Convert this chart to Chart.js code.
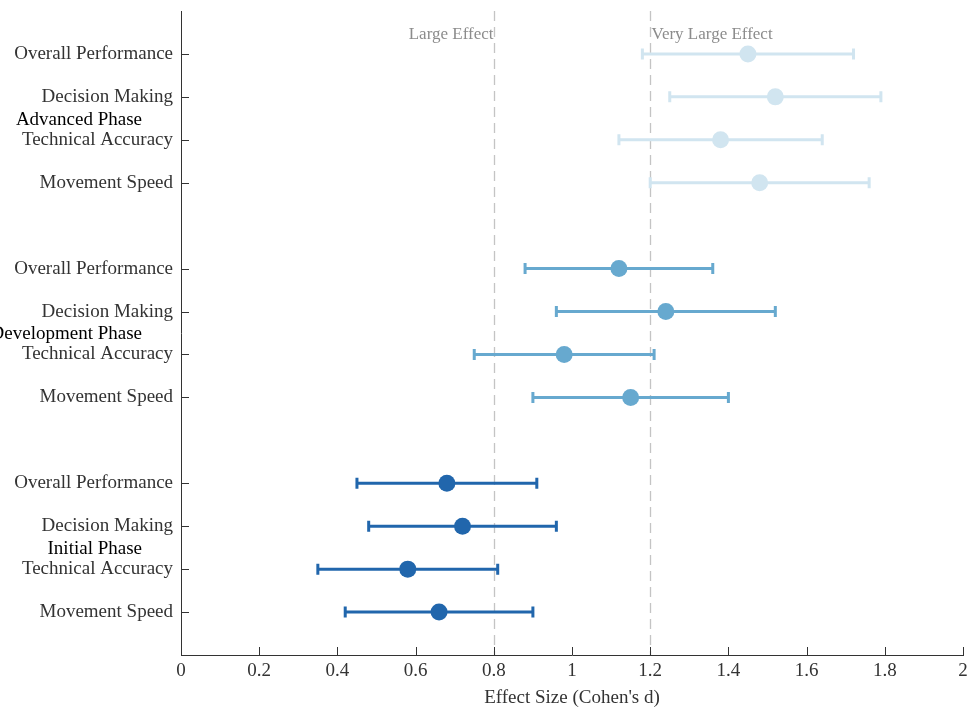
<!DOCTYPE html>
<html>
<head>
<meta charset="utf-8">
<script src="https://cdn.jsdelivr.net/npm/chart.js@4"></script>
<style>
html,body{margin:0;padding:0;background:#fff;}
#wrap{width:967px;height:708px;position:relative;}
</style>
</head>
<body>
<div id="wrap"><canvas id="c" width="967" height="708"></canvas></div>
<script>
// ---- data ----
const phases = ['Advanced Phase', 'Development Phase', 'Initial Phase'];
const measures = ['Overall Performance', 'Decision Making', 'Technical Accuracy', 'Movement Speed'];
const advancedEffect = [1.45, 1.52, 1.38, 1.48];
const advancedLower  = [1.18, 1.25, 1.12, 1.20];
const advancedUpper  = [1.72, 1.79, 1.64, 1.76];
const developmentEffect = [1.12, 1.24, 0.98, 1.15];
const developmentLower  = [0.88, 0.96, 0.75, 0.90];
const developmentUpper  = [1.36, 1.52, 1.21, 1.40];
const initialEffect = [0.68, 0.72, 0.58, 0.66];
const initialLower  = [0.45, 0.48, 0.35, 0.42];
const initialUpper  = [0.91, 0.96, 0.81, 0.90];
const referenceValues = [0.8, 1.2];
const referenceLabels = ['Large Effect', 'Very Large Effect'];
const xTicks = [0, 0.2, 0.4, 0.6, 0.8, 1, 1.2, 1.4, 1.6, 1.8, 2];

const phaseColors = ['#d1e5f0', '#67a9cf', '#2166ac'];
const effects = [advancedEffect, developmentEffect, initialEffect];
const lowers = [advancedLower, developmentLower, initialLower];
const uppers = [advancedUpper, developmentUpper, initialUpper];
const ROWS_PER_PHASE = measures.length + 1;

const rowLabel = {};
const yTickValues = [];
phases.forEach((p, pi) => measures.forEach((m, mi) => {
  const r = pi * ROWS_PER_PHASE + mi;
  rowLabel[r] = m; yTickValues.push(r);
}));

const datasets = phases.map((p, pi) => ({
  label: p,
  data: effects[pi].map((v, mi) => ({x: v, y: pi * ROWS_PER_PHASE + mi, lo: lowers[pi][mi], hi: uppers[pi][mi]})),
  backgroundColor: phaseColors[pi],
  borderColor: phaseColors[pi],
  pointRadius: 8.5,
  pointHoverRadius: 8.5,
  pointBorderWidth: 0
}));

const SERIF = '"Liberation Serif", "Times New Roman", serif';

const forestPlugin = {
  id: 'forest',
  beforeDatasetsDraw(chart) {
    const {ctx, chartArea, scales} = chart;
    const xs = scales.x, ys = scales.y;
    ctx.save();
    referenceValues.forEach((v, i) => {
      const px = Math.round(xs.getPixelForValue(v)) + 0.5;
      ctx.strokeStyle = '#c4c4c4';
      ctx.lineWidth = 1.3;
      ctx.setLineDash([10, 6]);
      ctx.beginPath();
      ctx.moveTo(px, chartArea.top);
      ctx.lineTo(px, chartArea.bottom);
      ctx.stroke();
      ctx.setLineDash([]);
      ctx.fillStyle = '#8c8c8c';
      ctx.font = '17px ' + SERIF;
      ctx.textBaseline = 'middle';
      ctx.textAlign = i === 0 ? 'right' : 'left';
      ctx.fillText(referenceLabels[i], i === 0 ? px - 1 : px + 1, ys.getPixelForValue(-0.5) + 2);
    });
    chart.data.datasets.forEach((ds) => {
      ctx.strokeStyle = ds.borderColor;
      ctx.lineWidth = 3;
      ds.data.forEach(d => {
        const py = ys.getPixelForValue(d.y);
        const x1 = xs.getPixelForValue(d.lo), x2 = xs.getPixelForValue(d.hi);
        ctx.beginPath();
        ctx.moveTo(x1, py); ctx.lineTo(x2, py);
        ctx.stroke();
        ctx.beginPath();
        ctx.moveTo(x1, py - 5.5); ctx.lineTo(x1, py + 5.5);
        ctx.moveTo(x2, py - 5.5); ctx.lineTo(x2, py + 5.5);
        ctx.stroke();
      });
    });
    ctx.restore();
  },
  afterDraw(chart) {
    const {ctx, chartArea, scales} = chart;
    const xs = scales.x, ys = scales.y;
    ctx.save();
    ctx.strokeStyle = '#333';
    ctx.lineWidth = 1;
    xs.ticks.forEach(t => {
      const px = Math.round(xs.getPixelForValue(t.value)) + 0.5;
      ctx.beginPath();
      ctx.moveTo(px, chartArea.bottom);
      ctx.lineTo(px, chartArea.bottom - 8);
      ctx.stroke();
    });
    ys.ticks.forEach(t => {
      const py = Math.round(ys.getPixelForValue(t.value)) + 0.5;
      ctx.beginPath();
      ctx.moveTo(chartArea.left, py);
      ctx.lineTo(chartArea.left + 8, py);
      ctx.stroke();
    });
    ctx.fillStyle = '#000';
    ctx.font = '19px ' + SERIF;
    ctx.textAlign = 'right';
    ctx.textBaseline = 'middle';
    phases.forEach((p, pi) => {
      const yv = pi * ROWS_PER_PHASE + (measures.length - 1) / 2;
      ctx.fillText(p, 142, ys.getPixelForValue(yv) + 1.5);
    });
    ctx.restore();
  }
};

function zeroPad(s) { s.paddingTop = 0; s.paddingBottom = 0; s.paddingLeft = 0; s.paddingRight = 0; }

new Chart(document.getElementById('c'), {
  type: 'scatter',
  data: {datasets},
  options: {
    responsive: false,
    animation: false,
    layout: {autoPadding: false, padding: {top: 11, right: 4, left: 0, bottom: 0}},
    plugins: {legend: {display: false}, tooltip: {enabled: false}},
    scales: {
      x: {
        type: 'linear', min: 0, max: 2,
        afterBuildTicks: (s) => { s.ticks = xTicks.map(v => ({value: v})); },
        afterFit: (s) => { s.height = 53; zeroPad(s); },
        grid: {display: false, drawTicks: false},
        border: {display: true, color: '#333', width: 1},
        ticks: {color: '#333', font: {family: SERIF, size: 19}, padding: 5, maxRotation: 0,
          callback: (v) => String(Math.round(v * 10) / 10)},
        title: {display: true, text: "Effect Size (Cohen's d)", color: '#333',
          font: {family: SERIF, size: 19, lineHeight: 1.1}, padding: {top: 0, bottom: 0}}
      },
      y: {
        type: 'linear', reverse: true, min: -1, max: phases.length * ROWS_PER_PHASE - 1,
        afterBuildTicks: (s) => { s.ticks = yTickValues.map(v => ({value: v})); },
        afterFit: (s) => { s.width = 181; zeroPad(s); },
        grid: {display: false, drawTicks: false},
        border: {display: true, color: '#333', width: 1},
        ticks: {color: '#333', font: {family: SERIF, size: 19}, padding: 8, autoSkip: false,
          callback: (v) => rowLabel[v] || ''}
      }
    }
  },
  plugins: [forestPlugin]
});
</script>
</body>
</html>
